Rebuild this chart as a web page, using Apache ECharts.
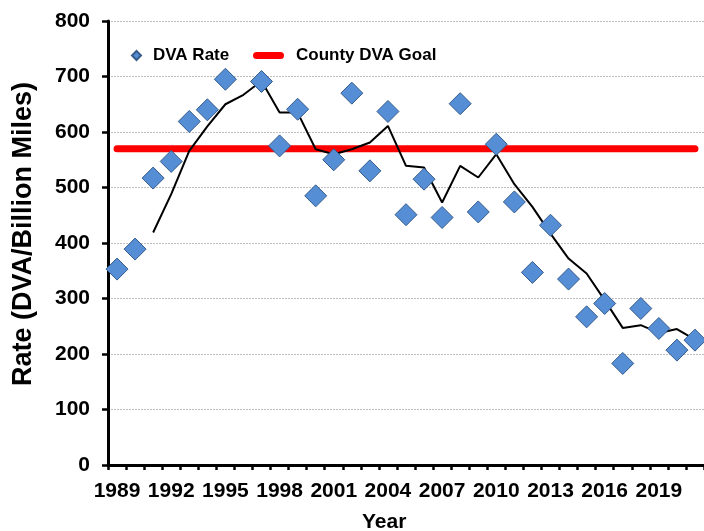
<!DOCTYPE html>
<html>
<head>
<meta charset="utf-8">
<script src="https://cdn.jsdelivr.net/npm/echarts@6/dist/echarts.min.js"></script>
<style>html,body{margin:0;padding:0;background:#fff;}#c{width:704px;height:531px;}</style>
</head>
<body>
<div id="c"></div>
<script>
var years = ['1989','1990','1991','1992','1993','1994','1995','1996','1997','1998','1999','2000','2001','2002','2003','2004','2005','2006','2007','2008','2009','2010','2011','2012','2013','2014','2015','2016','2017','2018','2019','2020','2021'];
var dvaRate = [353, 389, 517, 547, 619, 640, 695, '-', 691, 575, 641, 485, 550, 670, 530, 637, 451, 515, 446, 651, 456, 578, 474, 347, 432, 335, 267, 291, 183, 282, 246, 207, 225];
var movingAvg = ['-', '-', 419, 488, 566, 610, 650, 667, 692, 635, 635, 569, 560, 569, 581, 611, 539, 536, 473, 539, 518, 560, 506, 465, 417, 372, 345, 297, 247, 252, 238, 245, 226];
var goalValue = 570;
var goal = years.map(function(){ return goalValue; });
var yTicks = [0, 100, 200, 300, 400, 500, 600, 700, 800];

var FONT = "'Liberation Sans', Arial, sans-serif";
var chart = echarts.init(document.getElementById('c'), null, {renderer: 'canvas'});
chart.setOption({
  animation: false,
  backgroundColor: '#ffffff',
  textStyle: {fontFamily: FONT},
  grid: {left: 108, top: 21, right: 0, bottom: 66, containLabel: false},
  legend: [
    {
      data: [{name: 'DVA Rate', icon: 'diamond'}],
      left: 131, top: 47, padding: 0,
      itemWidth: 9, itemHeight: 9,
      textStyle: {fontFamily: FONT, fontWeight: 'bold', fontSize: 17, color: '#000', padding: [0, 0, 0, 7]}
    },
    {
      data: [{name: 'County DVA Goal', icon: 'path://M3.5,0 H27.5 A3.5,3.5 0 0 1 27.5,7 H3.5 A3.5,3.5 0 0 1 3.5,0 Z'}],
      left: 253, top: 47, padding: 0,
      itemWidth: 31, itemHeight: 7,
      textStyle: {fontFamily: FONT, fontWeight: 'bold', fontSize: 17, color: '#000', padding: [0, 0, 0, 7]}
    }
  ],
  xAxis: {
    type: 'category',
    data: years,
    boundaryGap: true,
    axisLine: {show: true, lineStyle: {color: '#000', width: 3}},
    axisTick: {show: true, interval: 0, length: 5, lineStyle: {color: '#000', width: 2.5}},
    axisLabel: {interval: 2, margin: 16, fontFamily: FONT, fontWeight: 'bold', fontSize: 21, color: '#000'},
    splitLine: {show: false}
  },
  yAxis: {
    type: 'value',
    min: 0, max: 800, interval: 100,
    axisLine: {show: true, lineStyle: {color: '#000', width: 3}},
    axisTick: {show: true, length: 6, lineStyle: {color: '#000', width: 2.5}},
    axisLabel: {margin: 18, fontFamily: FONT, fontWeight: 'bold', fontSize: 21, color: '#000',
      formatter: function(v){ return yTicks.indexOf(v) >= 0 ? String(v) : ''; }},
    splitLine: {show: true, lineStyle: {color: '#bfbfbf', width: 1, type: [2, 1]}}
  },
  graphic: [
    {type: 'text', x: 24, y: 234, rotation: Math.PI / 2,
      style: {text: 'Rate (DVA/Billion Miles)', font: 'bold 27px ' + FONT, fill: '#000', textAlign: 'center', textVerticalAlign: 'middle'}},
    {type: 'text', left: 362, top: 512,
      style: {text: 'Year', font: 'bold 21px ' + FONT, fill: '#000'}}
  ],
  series: [
    {
      name: 'County DVA Goal',
      type: 'line',
      data: goal,
      symbol: 'none',
      z: 1,
      itemStyle: {color: '#ff0000'},
      lineStyle: {color: '#ff0000', width: 7, cap: 'round'}
    },
    {
      name: 'Moving Average',
      type: 'line',
      data: movingAvg,
      symbol: 'none',
      z: 2,
      lineStyle: {color: '#000000', width: 2},
      itemStyle: {color: '#000'}
    },
    {
      name: 'DVA Rate',
      type: 'scatter',
      data: dvaRate,
      symbol: 'diamond',
      symbolSize: 22,
      z: 3,
      itemStyle: {color: '#558ed5', borderColor: '#365c8c', borderWidth: 1, opacity: 1}
    }
  ]
});
</script>
</body>
</html>
